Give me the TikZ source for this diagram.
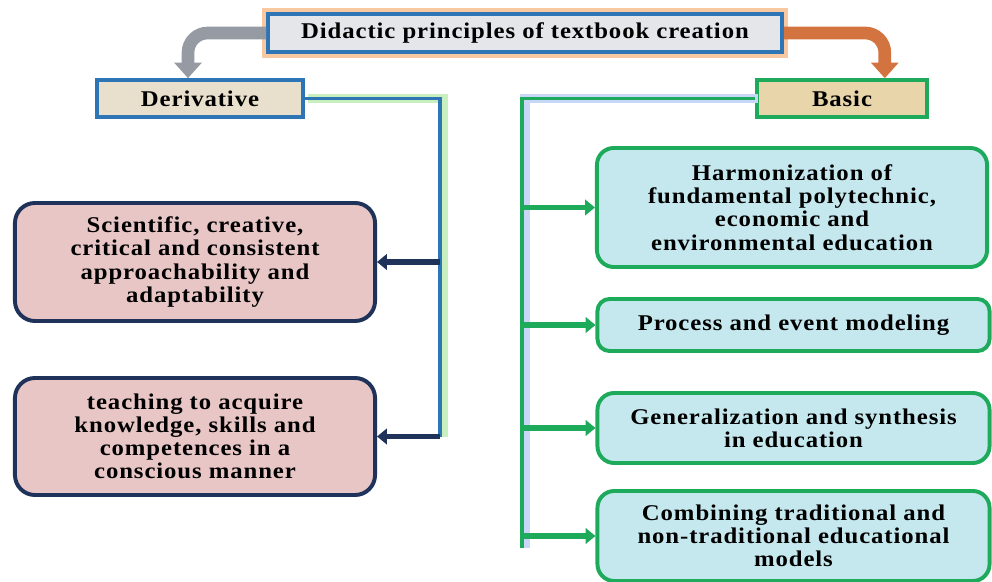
\documentclass[tikz,border=0pt]{standalone}
\usepackage{fontspec}
\setmainfont{Liberation Serif}[FakeStretch=1.1,LetterSpace=4]
\usepackage{tikz}
\usetikzlibrary{arrows.meta}

\definecolor{frameblue}{RGB}{46,117,182}
\definecolor{framegreen}{RGB}{29,170,90}
\definecolor{framenavy}{RGB}{31,50,90}
\definecolor{pinkfill}{RGB}{232,198,198}
\definecolor{aquafill}{RGB}{196,232,238}
\definecolor{sandfill}{RGB}{232,214,170}
\definecolor{paperfill}{RGB}{232,224,204}
\definecolor{marblefill}{RGB}{228,230,234}
\definecolor{gloworange}{RGB}{248,200,160}
\definecolor{glowgreen}{RGB}{200,240,190}
\definecolor{glowblue}{RGB}{200,214,248}
\definecolor{arrowgray}{RGB}{150,154,162}
\definecolor{arrowrust}{RGB}{210,115,64}

\tikzset{
  every node/.style={font=\bfseries\fontsize{16}{16.5}\selectfont, align=center, inner sep=0pt},
  titlebox/.style={draw=frameblue, line width=2.6pt, fill=marblefill,
    preaction={draw=gloworange, line width=9pt}},
  headbox/.style={line width=2.6pt, minimum height=0.925cm},
  derivbox/.style={draw=framenavy, line width=2.8pt, fill=pinkfill,
    rounded corners=0.5cm, minimum width=9cm},
  basicbox/.style={draw=framegreen, line width=2.8pt, fill=aquafill,
    rounded corners=0.42cm, minimum width=9.8cm},
  bentarrow/.style={line width=9pt, rounded corners=14pt,
    -{Triangle[length=11pt,width=19pt]}},
  trunk/.style={line width=2.8pt},
  branch/.style={line width=4pt, -{Triangle[length=7pt,width=11pt]}}
}

\begin{document}
\begin{tikzpicture}[x=0.025cm,y=-0.025cm]
\useasboundingbox (0,0) rectangle (992,582);

% top and the two heads
\node [titlebox, minimum width=12.85cm, minimum height=0.95cm] (title) at (525,33) {Didactic principles of textbook creation};
\node [headbox, draw=frameblue, fill=paperfill, minimum width=5.15cm] (deriv) at (200,98.5) {Derivative};
\node [headbox, draw=framegreen, fill=sandfill, minimum width=4.25cm] (basic) at (842,98.5) {Basic};

\draw [bentarrow, arrowgray] (title.west) -| ([xshift=-0.3cm]deriv.north);
\draw [bentarrow, arrowrust] (title.east) -| ([xshift=1.07cm]basic.north);

% derivative side
\node [derivbox, minimum height=2.95cm] (sci) at (195,262) {Scientific, creative,\\ critical and consistent\\ approachability and\\ adaptability};
\node [derivbox, minimum height=2.925cm] (teach) at (195,436.5) {teaching to acquire\\ knowledge, skills and\\ competences in a\\ conscious manner};

\coordinate (ltrunk) at (440,437);
\draw [trunk, glowgreen, line width=7pt] ([xshift=2pt]deriv.east) -| ([xshift=2pt]ltrunk);
\draw [trunk, frameblue] (deriv.east) -| (ltrunk);
\draw [branch, framenavy] (ltrunk |- sci.east) -- (sci.east);
\draw [branch, framenavy] (ltrunk |- teach.east) -- (teach.east);

% basic side
\node [basicbox, minimum width=9.75cm, minimum height=2.975cm] (harm) at (792,207.5) {Harmonization of\\ fundamental polytechnic,\\ economic and\\ environmental education};
\node [basicbox, rounded corners=0.3cm, minimum height=1.3cm] (proc) at (793.5,325) {Process and event modeling};
\node [basicbox, minimum height=1.75cm] (gen) at (793.5,428) {Generalization and synthesis\\ in education};
\node [basicbox, minimum height=2.25cm] (comb) at (793.5,536) {Combining traditional and\\ non-traditional educational\\ models};

\coordinate (rtrunk) at (522,548);
\draw [trunk, glowblue, line width=7pt] ([xshift=2pt]basic.west) -| ([xshift=2pt]rtrunk);
\draw [trunk, framegreen] (basic.west) -| (rtrunk);
\draw [branch, framegreen] (rtrunk |- harm.west) -- (harm.west);
\draw [branch, framegreen] (rtrunk |- proc.west) -- (proc.west);
\draw [branch, framegreen] (rtrunk |- gen.west) -- (gen.west);
\draw [branch, framegreen] (rtrunk |- comb.west) -- (comb.west);
\end{tikzpicture}
\end{document}
